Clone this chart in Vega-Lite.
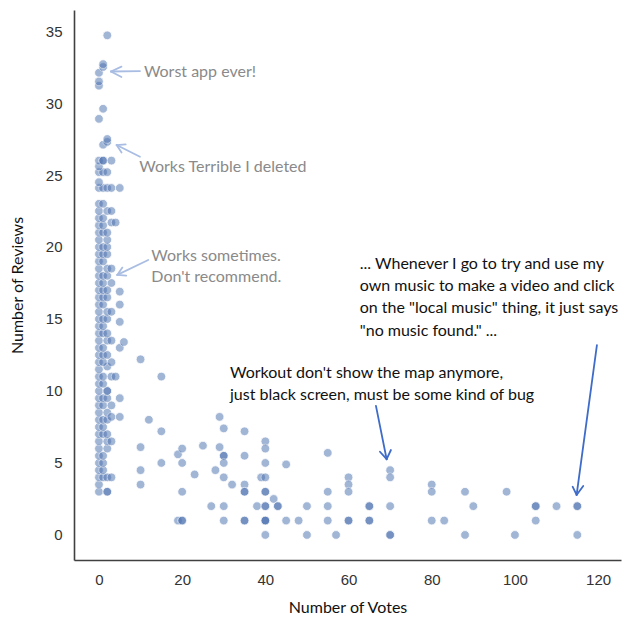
{
  "$schema": "https://vega.github.io/schema/vega-lite/v6.json",
  "width": 547,
  "height": 550,
  "autosize": "none",
  "padding": {"left": 74, "top": 10, "right": 13, "bottom": 62},
  "background": "white",
  "config": {
    "view": {"stroke": null},
    "axis": {
      "grid": false,
      "ticks": false,
      "domainColor": "#404040",
      "domainWidth": 1.6,
      "labelFont": "Liberation Sans",
      "labelFontSize": 15,
      "labelColor": "#333333",
      "labelPadding": 12,
      "titleFont": "Lato",
      "titleFontSize": 16,
      "titleFontWeight": "normal",
      "titleColor": "#111111"
    }
  },
  "datasets": {
    "reviews": [
      {"votes": 0, "reviews": 3}, {"votes": 2, "reviews": 3}, {"votes": 2, "reviews": 3},
      {"votes": 0, "reviews": 3.5},
      {"votes": 0, "reviews": 4}, {"votes": 1, "reviews": 4}, {"votes": 2, "reviews": 4}, {"votes": 3, "reviews": 4},
      {"votes": 0, "reviews": 4.5}, {"votes": 1, "reviews": 4.5},
      {"votes": 0, "reviews": 5}, {"votes": 1, "reviews": 5},
      {"votes": 0, "reviews": 5.5}, {"votes": 1, "reviews": 5.5},
      {"votes": 0, "reviews": 6}, {"votes": 2, "reviews": 6},
      {"votes": 0, "reviews": 6.5}, {"votes": 2, "reviews": 6.5}, {"votes": 3, "reviews": 6.5},
      {"votes": 0, "reviews": 7}, {"votes": 1, "reviews": 7}, {"votes": 2, "reviews": 7},
      {"votes": 0, "reviews": 7.5}, {"votes": 1, "reviews": 7.5},
      {"votes": 0, "reviews": 8}, {"votes": 1, "reviews": 8}, {"votes": 2, "reviews": 8},
      {"votes": 0, "reviews": 8.5}, {"votes": 2, "reviews": 8.5},
      {"votes": 0, "reviews": 9}, {"votes": 1, "reviews": 9}, {"votes": 3, "reviews": 9},
      {"votes": 0, "reviews": 9.5}, {"votes": 1, "reviews": 9.5}, {"votes": 2, "reviews": 9.5},
      {"votes": 0, "reviews": 10}, {"votes": 2, "reviews": 10}, {"votes": 2, "reviews": 10},
      {"votes": 0, "reviews": 10.5}, {"votes": 1, "reviews": 10.5},
      {"votes": 0, "reviews": 11}, {"votes": 1, "reviews": 11}, {"votes": 3, "reviews": 11},
      {"votes": 0, "reviews": 11.5}, {"votes": 2, "reviews": 11.7},
      {"votes": 0, "reviews": 12}, {"votes": 1, "reviews": 12}, {"votes": 3, "reviews": 12},
      {"votes": 0, "reviews": 12.5}, {"votes": 1, "reviews": 12.5}, {"votes": 2, "reviews": 12.5},
      {"votes": 0, "reviews": 13}, {"votes": 1, "reviews": 13},
      {"votes": 0, "reviews": 13.5}, {"votes": 2, "reviews": 13.5}, {"votes": 3, "reviews": 13.5},
      {"votes": 0, "reviews": 14}, {"votes": 1, "reviews": 14}, {"votes": 2, "reviews": 14},
      {"votes": 0, "reviews": 14.5}, {"votes": 1, "reviews": 14.5},
      {"votes": 0, "reviews": 15}, {"votes": 1, "reviews": 15}, {"votes": 2, "reviews": 15},
      {"votes": 0, "reviews": 15.5}, {"votes": 2, "reviews": 15.5}, {"votes": 3, "reviews": 15.5},
      {"votes": 0, "reviews": 16}, {"votes": 1, "reviews": 16},
      {"votes": 0, "reviews": 16.5}, {"votes": 1, "reviews": 16.5}, {"votes": 2, "reviews": 16.5},
      {"votes": 0, "reviews": 17}, {"votes": 1, "reviews": 17}, {"votes": 2, "reviews": 17},
      {"votes": 0, "reviews": 17.5}, {"votes": 1, "reviews": 17.5}, {"votes": 3, "reviews": 17.5},
      {"votes": 0, "reviews": 18}, {"votes": 1, "reviews": 18}, {"votes": 2, "reviews": 18},
      {"votes": 0, "reviews": 18.5}, {"votes": 2, "reviews": 18.5}, {"votes": 3, "reviews": 18.5},
      {"votes": 0, "reviews": 19}, {"votes": 1, "reviews": 19},
      {"votes": 0, "reviews": 19.5}, {"votes": 1, "reviews": 19.5}, {"votes": 2, "reviews": 19.5},
      {"votes": 0, "reviews": 20}, {"votes": 1, "reviews": 20}, {"votes": 2, "reviews": 20},
      {"votes": 0, "reviews": 20.5}, {"votes": 2, "reviews": 20.5},
      {"votes": 0, "reviews": 21}, {"votes": 1, "reviews": 21}, {"votes": 2, "reviews": 21},
      {"votes": 0, "reviews": 21.5}, {"votes": 1, "reviews": 21.5}, {"votes": 3, "reviews": 21.7}, {"votes": 4, "reviews": 21.7},
      {"votes": 0, "reviews": 22}, {"votes": 1, "reviews": 22},
      {"votes": 0, "reviews": 22.5}, {"votes": 2, "reviews": 22.5}, {"votes": 3, "reviews": 22.5},
      {"votes": 0, "reviews": 23}, {"votes": 1, "reviews": 23},
      {"votes": 0, "reviews": 24.1}, {"votes": 1, "reviews": 24.1}, {"votes": 2, "reviews": 24.1}, {"votes": 3, "reviews": 24.1}, {"votes": 5, "reviews": 24.1},
      {"votes": 0, "reviews": 24.5},
      {"votes": 0, "reviews": 25.2}, {"votes": 1, "reviews": 25.2}, {"votes": 2, "reviews": 25.2},
      {"votes": 0, "reviews": 25.6},
      {"votes": 0, "reviews": 26}, {"votes": 1, "reviews": 26}, {"votes": 1, "reviews": 26}, {"votes": 3, "reviews": 26},
      {"votes": 1, "reviews": 27.1}, {"votes": 2, "reviews": 27.3}, {"votes": 2, "reviews": 27.5},
      {"votes": 0, "reviews": 28.9}, {"votes": 1, "reviews": 29.6},
      {"votes": 0, "reviews": 31.2}, {"votes": 0, "reviews": 31.5}, {"votes": 0, "reviews": 32.1},
      {"votes": 1, "reviews": 32.5}, {"votes": 1, "reviews": 32.7}, {"votes": 2, "reviews": 34.7},
      {"votes": 3, "reviews": 8.2}, {"votes": 4, "reviews": 11},
      {"votes": 5, "reviews": 8.2}, {"votes": 5, "reviews": 9.5}, {"votes": 5, "reviews": 13},
      {"votes": 5, "reviews": 14.8}, {"votes": 5, "reviews": 16}, {"votes": 5, "reviews": 16.9},
      {"votes": 6, "reviews": 13.4},
      {"votes": 10, "reviews": 12.2}, {"votes": 10, "reviews": 6.1}, {"votes": 10, "reviews": 4.5}, {"votes": 10, "reviews": 3.5},
      {"votes": 12, "reviews": 8}, {"votes": 15, "reviews": 11}, {"votes": 15, "reviews": 7.2}, {"votes": 15, "reviews": 5},
      {"votes": 19, "reviews": 5.6}, {"votes": 20, "reviews": 6}, {"votes": 20, "reviews": 5}, {"votes": 20, "reviews": 3},
      {"votes": 19, "reviews": 1}, {"votes": 20, "reviews": 1}, {"votes": 20, "reviews": 1},
      {"votes": 23, "reviews": 4.2}, {"votes": 25, "reviews": 6.2}, {"votes": 27, "reviews": 2}, {"votes": 28, "reviews": 4.5},
      {"votes": 29, "reviews": 8.2}, {"votes": 29, "reviews": 6.1},
      {"votes": 30, "reviews": 7.4}, {"votes": 30, "reviews": 5.5}, {"votes": 30, "reviews": 5.5}, {"votes": 30, "reviews": 5},
      {"votes": 30, "reviews": 4}, {"votes": 30, "reviews": 2}, {"votes": 30, "reviews": 1},
      {"votes": 32, "reviews": 3.5},
      {"votes": 35, "reviews": 7.2}, {"votes": 35, "reviews": 5.5}, {"votes": 35, "reviews": 3.5},
      {"votes": 35, "reviews": 3}, {"votes": 35, "reviews": 3}, {"votes": 35, "reviews": 1}, {"votes": 35, "reviews": 1},
      {"votes": 38, "reviews": 2}, {"votes": 39, "reviews": 4},
      {"votes": 40, "reviews": 6.5}, {"votes": 40, "reviews": 6}, {"votes": 40, "reviews": 5}, {"votes": 40, "reviews": 4},
      {"votes": 40, "reviews": 3}, {"votes": 40, "reviews": 3}, {"votes": 40, "reviews": 2}, {"votes": 40, "reviews": 2},
      {"votes": 40, "reviews": 1}, {"votes": 40, "reviews": 1}, {"votes": 40, "reviews": 1}, {"votes": 40, "reviews": 0},
      {"votes": 42, "reviews": 2.5}, {"votes": 43, "reviews": 2}, {"votes": 43, "reviews": 2},
      {"votes": 45, "reviews": 4.9}, {"votes": 45, "reviews": 1}, {"votes": 48, "reviews": 1},
      {"votes": 50, "reviews": 2}, {"votes": 50, "reviews": 0},
      {"votes": 55, "reviews": 5.7}, {"votes": 55, "reviews": 3}, {"votes": 55, "reviews": 2}, {"votes": 55, "reviews": 1},
      {"votes": 57, "reviews": 0},
      {"votes": 60, "reviews": 4}, {"votes": 60, "reviews": 3.5}, {"votes": 60, "reviews": 3},
      {"votes": 60, "reviews": 1}, {"votes": 60, "reviews": 1},
      {"votes": 65, "reviews": 2}, {"votes": 65, "reviews": 2}, {"votes": 65, "reviews": 1}, {"votes": 65, "reviews": 1},
      {"votes": 70, "reviews": 4.5}, {"votes": 70, "reviews": 4}, {"votes": 70, "reviews": 2},
      {"votes": 70, "reviews": 0}, {"votes": 70, "reviews": 0},
      {"votes": 80, "reviews": 3.5}, {"votes": 80, "reviews": 3}, {"votes": 80, "reviews": 1},
      {"votes": 83, "reviews": 1}, {"votes": 88, "reviews": 3}, {"votes": 88, "reviews": 0},
      {"votes": 90, "reviews": 2}, {"votes": 98, "reviews": 3}, {"votes": 100, "reviews": 0},
      {"votes": 105, "reviews": 2}, {"votes": 105, "reviews": 2}, {"votes": 105, "reviews": 1},
      {"votes": 110, "reviews": 2}, {"votes": 115, "reviews": 2}, {"votes": 115, "reviews": 2}, {"votes": 115, "reviews": 0}
    ],
    "arrows": [
      {"tone": "light", "votes": 9.86, "reviews": 32.22, "votes2": 2.88, "reviews2": 32.19},
      {"tone": "light", "votes": 5.41, "reviews": 32.53, "votes2": 2.88, "reviews2": 32.19},
      {"tone": "light", "votes": 5.41, "reviews": 31.81, "votes2": 2.88, "reviews2": 32.19},
      {"tone": "light", "votes": 9.86, "reviews": 26.27, "votes2": 4.25, "reviews2": 27.08},
      {"tone": "light", "votes": 6.42, "reviews": 27.12, "votes2": 4.25, "reviews2": 27.08},
      {"tone": "light", "votes": 5.43, "reviews": 26.56, "votes2": 4.25, "reviews2": 27.08},
      {"tone": "light", "votes": 11.85, "reviews": 19.1, "votes2": 4.4, "reviews2": 18.06},
      {"tone": "light", "votes": 6.56, "reviews": 18.01, "votes2": 4.4, "reviews2": 18.06},
      {"tone": "light", "votes": 5.63, "reviews": 18.57, "votes2": 4.4, "reviews2": 18.06},
      {"tone": "dark", "votes": 66.59, "reviews": 8.96, "votes2": 69.16, "reviews2": 5.26},
      {"tone": "dark", "votes": 67.55, "reviews": 5.78, "votes2": 69.16, "reviews2": 5.26},
      {"tone": "dark", "votes": 70.19, "reviews": 5.9, "votes2": 69.16, "reviews2": 5.26},
      {"tone": "dark", "votes": 119.71, "reviews": 13.19, "votes2": 114.83, "reviews2": 2.78},
      {"tone": "dark", "votes": 113.87, "reviews": 3.35, "votes2": 114.83, "reviews2": 2.78},
      {"tone": "dark", "votes": 116.42, "reviews": 3.4, "votes2": 114.83, "reviews2": 2.78}
    ],
    "notes": [
      {"tone": "light", "votes": 10.8, "reviews": 32.15, "label": "Worst app ever!"},
      {"tone": "light", "votes": 9.7, "reviews": 25.56, "label": "Works Terrible I deleted"},
      {"tone": "light", "votes": 12.6, "reviews": 19.38, "label": "Works sometimes."},
      {"tone": "light", "votes": 12.6, "reviews": 17.94, "label": "Don't recommend."},
      {"tone": "dark", "votes": 31.5, "reviews": 11.25, "label": "Workout don't show the map anymore,"},
      {"tone": "dark", "votes": 31.5, "reviews": 9.72, "label": "just black screen, must be some kind of bug"},
      {"tone": "dark", "votes": 62.7, "reviews": 18.82, "label": "... Whenever I go to try and use my"},
      {"tone": "dark", "votes": 62.7, "reviews": 17.29, "label": "own music to make a video and click"},
      {"tone": "dark", "votes": 62.7, "reviews": 15.76, "label": "on the \"local music\" thing, it just says"},
      {"tone": "dark", "votes": 62.7, "reviews": 14.17, "label": "\"no music found.\" ..."}
    ]
  },
  "encoding": {
    "x": {
      "field": "votes",
      "type": "quantitative",
      "scale": {"domain": [-6, 125.5], "nice": false, "zero": false},
      "axis": {"title": "Number of Votes", "values": [0, 20, 40, 60, 80, 100, 120], "titleY": 47, "titleBaseline": "middle"}
    },
    "y": {
      "field": "reviews",
      "type": "quantitative",
      "scale": {"domain": [-1.74, 36.46], "nice": false, "zero": false},
      "axis": {"title": "Number of Reviews", "values": [0, 5, 10, 15, 20, 25, 30, 35], "titleX": -57, "titleBaseline": "middle"}
    }
  },
  "layer": [
    {
      "data": {"name": "reviews"},
      "mark": {"type": "circle", "size": 76, "color": "#4c72b0", "opacity": 0.52, "stroke": "white", "strokeWidth": 0.8, "strokeOpacity": 1}
    },
    {
      "data": {"name": "arrows"},
      "transform": [{"filter": "datum.tone === 'light'"}],
      "mark": {"type": "rule", "color": "#a9bde3", "strokeWidth": 1.8, "strokeCap": "round"},
      "encoding": {"x2": {"field": "votes2"}, "y2": {"field": "reviews2"}}
    },
    {
      "data": {"name": "arrows"},
      "transform": [{"filter": "datum.tone === 'dark'"}],
      "mark": {"type": "rule", "color": "#3f6cc8", "strokeWidth": 1.8, "strokeCap": "round"},
      "encoding": {"x2": {"field": "votes2"}, "y2": {"field": "reviews2"}}
    },
    {
      "data": {"name": "notes"},
      "transform": [{"filter": "datum.tone === 'light'"}],
      "mark": {"type": "text", "align": "left", "baseline": "middle", "font": "Lato", "fontSize": 16, "color": "#8a8a8a"},
      "encoding": {"text": {"field": "label"}}
    },
    {
      "data": {"name": "notes"},
      "transform": [{"filter": "datum.tone === 'dark'"}],
      "mark": {"type": "text", "align": "left", "baseline": "middle", "font": "Lato", "fontSize": 16, "color": "#111111"},
      "encoding": {"text": {"field": "label"}}
    }
  ]
}
